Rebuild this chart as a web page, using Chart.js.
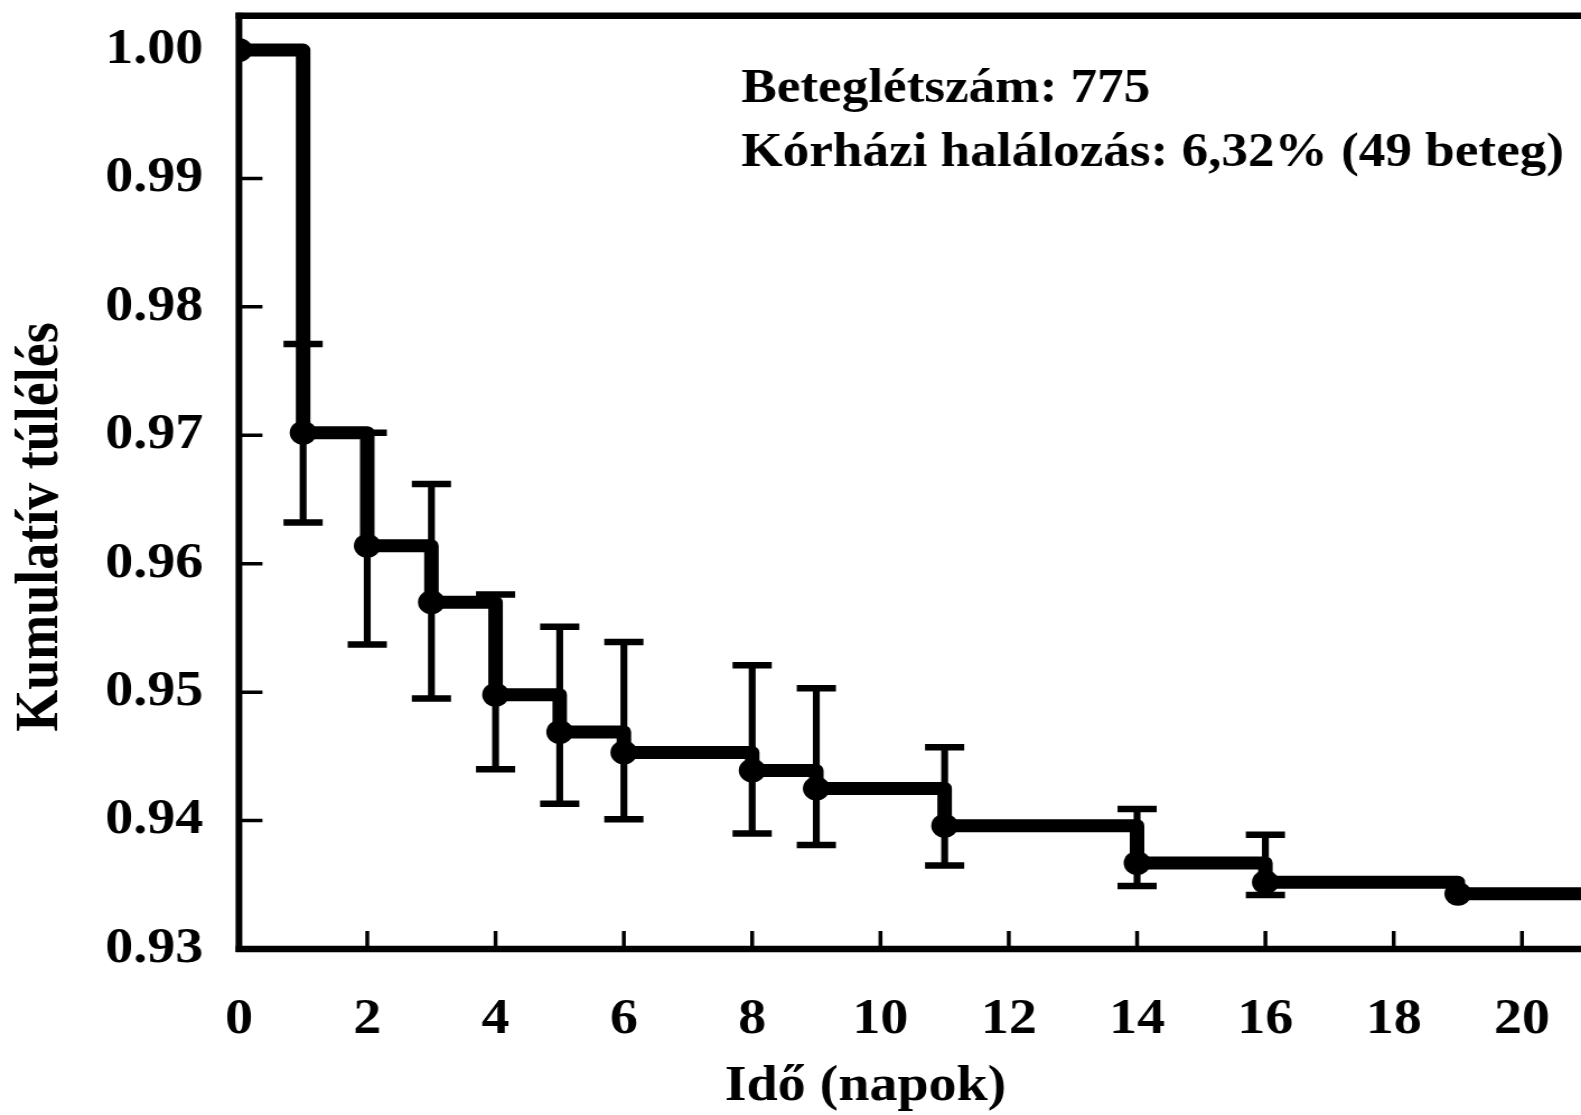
<!DOCTYPE html>
<html>
<head>
<meta charset="utf-8">
<script src="https://cdn.jsdelivr.net/npm/chart.js@4"></script>
<style>
  html, body { margin: 0; padding: 0; background: #fff; overflow: hidden; }
  #wrap {
    position: absolute; left: 0; top: 0;
    width: 1412px; height: 1115px;
    transform: scaleX(1.1197); transform-origin: 0 0;
  }
</style>
</head>
<body>
<div id="wrap"><canvas id="km"></canvas></div>
<script>
// Kaplan-Meier survival, time in days
const times = [0, 1, 2, 3, 4, 5, 6, 8, 9, 11, 14, 16, 19];
const survival = [1.000, 0.9702, 0.9614, 0.9570, 0.9498, 0.9469, 0.9453, 0.9439, 0.9425, 0.9396, 0.9367, 0.9352, 0.9343];

// error bars
const errTimes = [1, 2, 3, 4, 5, 6, 8, 9, 11, 14, 16];
const errLow = [0.9632, 0.9537, 0.9495, 0.9440, 0.9413, 0.9401, 0.9390, 0.9381, 0.9365, 0.9349, 0.9342];
const errHigh = [0.9771, 0.9702, 0.9662, 0.9576, 0.9551, 0.9539, 0.9521, 0.9503, 0.9457, 0.9409, 0.9389];

const xTitle = 'Idő (napok)';
const yTitle = 'Kumulatív túlélés';
const noteLines = ['Beteglétszám: 775', 'Kórházi halálozás: 6,32% (49 beteg)'];

const FONT = "'Liberation Serif', 'Times New Roman', serif";

// curve runs on to the right edge
const kmData = times.map((t, i) => ({ x: t, y: survival[i] }));
kmData.push({ x: 22, y: survival[survival.length - 1] });
const kmRadius = kmData.map((p, i) => i < times.length ? 12 : 0);

const stems = errTimes.map((t, i) => ({ x: t, y: [errLow[i], errHigh[i]] }));
const caps = [];
errTimes.forEach((t, i) => {
    caps.push({ x: t, y: errLow[i] });
    caps.push({ x: t, y: errHigh[i] });
});

const framePlugin = {
    id: 'frame',
    afterDraw(chart) {
        const ctx = chart.ctx;
        const a = chart.chartArea;
        const xs = chart.scales.x, ys = chart.scales.y;
        ctx.save();
        ctx.strokeStyle = '#000';
        ctx.fillStyle = '#000';

        // axis lines and top border
        ctx.lineWidth = 6.5;
        ctx.beginPath();
        ctx.moveTo(a.left - 3, a.top);
        ctx.lineTo(a.right + 5, a.top);
        ctx.moveTo(a.left - 3, a.bottom);
        ctx.lineTo(a.right + 5, a.bottom);
        ctx.stroke();
        ctx.lineWidth = 6;
        ctx.beginPath();
        ctx.moveTo(a.left, a.top - 3);
        ctx.lineTo(a.left, a.bottom + 3);
        ctx.stroke();

        // inward ticks
        ctx.lineWidth = 3.5;
        ctx.beginPath();
        xs.ticks.forEach(tk => {
            if (tk.value === 0) return;
            const px = xs.getPixelForValue(tk.value);
            ctx.moveTo(px, a.bottom);
            ctx.lineTo(px, a.bottom - 18);
        });
        ys.ticks.forEach(tk => {
            const py = ys.getPixelForValue(tk.value);
            ctx.moveTo(a.left, py);
            ctx.lineTo(a.left + 21, py);
        });
        ctx.stroke();

        // axis titles
        ctx.font = 'bold 50px ' + FONT;
        ctx.textAlign = 'center';
        ctx.textBaseline = 'alphabetic';
        ctx.fillText(xTitle, 773, 1100);

        ctx.save();
        ctx.font = 'bold 54px ' + FONT;
        ctx.translate(50.6, 527);
        ctx.rotate(-Math.PI / 2);
        ctx.fillText(yTitle, 0, 0);
        ctx.restore();

        // note in the upper right
        ctx.font = 'bold 47.5px ' + FONT;
        ctx.textAlign = 'left';
        ctx.fillText(noteLines[0], 662, 101.7);
        ctx.fillText(noteLines[1], 662, 166);
        ctx.restore();
    }
};

new Chart(document.getElementById('km'), {
    type: 'line',
    data: {
        datasets: [
            {
                type: 'line',
                data: kmData,
                stepped: true,
                borderColor: '#000',
                borderWidth: 13,
                borderJoinStyle: 'round',
                pointRadius: kmRadius,
                pointBackgroundColor: '#000',
                pointBorderWidth: 0,
                order: 1
            },
            {
                type: 'scatter',
                data: caps,
                pointStyle: 'line',
                pointRadius: 17.5,
                pointBorderColor: '#000',
                pointBorderWidth: 6.5,
                showLine: false,
                order: 2
            },
            {
                type: 'bar',
                data: stems,
                backgroundColor: '#000',
                borderWidth: 0,
                barThickness: 5.5,
                order: 3
            }
        ]
    },
    options: {
        responsive: true,
        maintainAspectRatio: false,
        animation: false,
        layout: { autoPadding: false, padding: { top: 15.7, right: 0, bottom: 0, left: 0 } },
        plugins: { legend: { display: false }, tooltip: { enabled: false } },
        scales: {
            x: {
                type: 'linear',
                min: 0,
                max: 20.92,
                offset: false,
                grid: { display: false },
                border: { display: false },
                ticks: {
                    stepSize: 2,
                    includeBounds: false,
                    autoSkip: false,
                    maxRotation: 0,
                    padding: 33,
                    color: '#000',
                    font: { family: FONT, size: 50, weight: 'bold' }
                },
                afterFit(s) {
                    s.height = 166;
                    s.paddingLeft = 0;
                    s.paddingRight = 0;
                }
            },
            y: {
                type: 'linear',
                min: 0.93,
                max: 1.00267,
                grid: { display: false },
                border: { display: false },
                ticks: {
                    stepSize: 0.01,
                    includeBounds: false,
                    padding: 24,
                    color: '#000',
                    font: { family: FONT, size: 50, weight: 'bold' },
                    callback: v => v.toFixed(2)
                },
                afterFit(s) {
                    s.width = 213.4;
                    s.paddingTop = 0;
                    s.paddingBottom = 0;
                }
            }
        }
    },
    plugins: [framePlugin]
});
</script>
</body>
</html>
